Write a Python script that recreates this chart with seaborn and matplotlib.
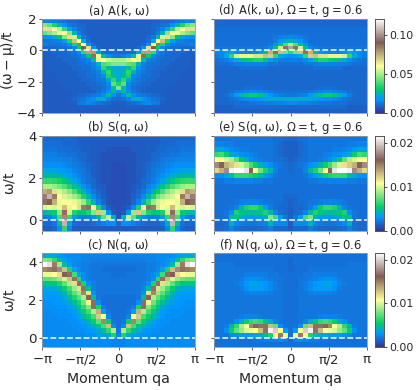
import numpy as np
import matplotlib
matplotlib.use("Agg")
import matplotlib.pyplot as plt
import seaborn as sns

# all panels are stored as % of the colour range, -pi..0 half only (spectra are symmetric)
# rows run from the top of the panel down, 0.25 in omega per row
panel_a = [
    [12, 12, 11, 10, 9, 8, 8, 7, 7, 7, 7, 7, 7, 7, 7, 7],
    [38, 35, 28, 20, 14, 10, 9, 8, 8, 7, 7, 7, 7, 7, 7, 7],
    [55, 55, 50, 42, 30, 18, 12, 9, 8, 7, 7, 7, 7, 7, 7, 7],
    [35, 38, 42, 48, 50, 38, 20, 11, 8, 7, 7, 7, 7, 7, 7, 7],
    [14, 15, 18, 24, 38, 55, 45, 20, 10, 8, 7, 7, 7, 7, 7, 7],
    [10, 10, 11, 12, 16, 28, 60, 50, 18, 9, 7, 7, 7, 7, 7, 7],
    [12, 10, 10, 10, 11, 14, 28, 70, 50, 14, 8, 7, 7, 7, 7, 7],
    [8, 8, 8, 9, 9, 10, 13, 25, 75, 55, 14, 8, 7, 7, 7, 7],
    [7, 7, 8, 8, 8, 9, 10, 13, 30, 85, 65, 16, 9, 8, 8, 8],
    [7, 7, 7, 8, 8, 8, 9, 10, 13, 25, 72, 48, 22, 14, 11, 10],
    [6, 7, 7, 7, 8, 8, 8, 9, 10, 12, 22, 52, 50, 45, 42, 42],
    [6, 7, 7, 7, 7, 8, 8, 9, 9, 10, 12, 20, 33, 35, 38, 38],
    [6, 7, 7, 7, 7, 7, 8, 8, 9, 9, 11, 14, 30, 22, 18, 17],
    [6, 6, 7, 7, 7, 7, 7, 8, 8, 9, 10, 12, 20, 30, 20, 18],
    [6, 6, 6, 7, 7, 7, 7, 8, 8, 9, 9, 11, 13, 28, 22, 18],
    [6, 6, 6, 7, 7, 7, 7, 7, 8, 8, 9, 10, 11, 18, 30, 20],
    [6, 6, 6, 6, 7, 7, 7, 7, 7, 8, 8, 9, 10, 13, 34, 28],
    [6, 6, 6, 6, 6, 7, 7, 7, 7, 7, 8, 8, 9, 12, 22, 38],
    [6, 6, 6, 6, 6, 6, 7, 7, 7, 7, 7, 9, 10, 14, 22, 16],
    [6, 6, 6, 6, 6, 6, 7, 8, 8, 9, 10, 11, 14, 22, 14, 10],
    [6, 6, 6, 6, 6, 7, 8, 9, 10, 12, 14, 18, 18, 12, 9, 8],
    [6, 6, 6, 6, 6, 6, 7, 10, 11, 13, 12, 10, 9, 8, 7, 7],
    [6, 6, 6, 6, 6, 6, 6, 7, 7, 7, 7, 7, 7, 7, 6, 6],
    [6, 6, 6, 6, 6, 6, 6, 6, 6, 6, 6, 6, 6, 6, 6, 6],
]
panel_b = [
    [8, 8, 8, 8, 8, 8, 8, 7, 7, 7, 7, 7, 7, 7, 7, 7],
    [9, 9, 9, 9, 8, 8, 8, 7, 7, 7, 6, 6, 6, 6, 6, 6],
    [10, 10, 10, 9, 9, 9, 8, 8, 7, 7, 6, 6, 6, 5, 5, 5],
    [11, 11, 11, 10, 10, 9, 9, 8, 8, 7, 6, 6, 5, 5, 5, 5],
    [12, 12, 12, 12, 11, 11, 10, 9, 8, 7, 6, 6, 5, 5, 5, 5],
    [14, 14, 14, 14, 13, 12, 11, 10, 9, 8, 7, 6, 5, 5, 4, 4],
    [17, 17, 17, 16, 15, 14, 12, 11, 10, 8, 7, 6, 5, 5, 4, 4],
    [21, 21, 20, 19, 18, 16, 14, 12, 10, 9, 7, 6, 5, 5, 4, 4],
    [30, 30, 29, 27, 24, 20, 17, 14, 11, 9, 8, 6, 5, 5, 4, 4],
    [42, 42, 40, 37, 33, 28, 23, 18, 14, 11, 8, 7, 6, 5, 4, 4],
    [62, 65, 55, 46, 42, 38, 32, 26, 20, 14, 10, 8, 6, 5, 4, 4],
    [80, 88, 70, 50, 46, 44, 41, 36, 28, 20, 13, 9, 7, 5, 4, 4],
    [72, 75, 62, 48, 50, 50, 48, 45, 40, 30, 20, 12, 8, 5, 4, 4],
    [46, 48, 46, 48, 60, 48, 50, 55, 70, 72, 52, 28, 13, 7, 5, 4],
    [20, 22, 26, 40, 72, 45, 28, 24, 24, 28, 38, 58, 40, 14, 6, 4],
    [11, 12, 16, 32, 82, 30, 16, 12, 11, 12, 14, 20, 34, 44, 20, 5],
    [8, 8, 10, 22, 88, 18, 9, 8, 8, 8, 9, 10, 12, 14, 14, 8],
    [7, 7, 8, 14, 30, 12, 7, 6, 6, 6, 6, 6, 6, 6, 6, 6],
]
panel_c = [
    [18, 18, 17, 15, 14, 13, 13, 13, 12, 12, 12, 12, 12, 12, 12, 12],
    [38, 36, 30, 22, 16, 14, 13, 13, 12, 12, 11, 11, 11, 11, 11, 11],
    [100, 95, 70, 40, 22, 15, 13, 12, 11, 11, 10, 10, 10, 10, 10, 10],
    [68, 70, 78, 82, 60, 28, 17, 13, 11, 11, 10, 10, 9, 9, 9, 9],
    [48, 48, 50, 55, 75, 72, 32, 17, 13, 11, 10, 10, 10, 10, 9, 9],
    [34, 34, 36, 40, 46, 60, 78, 30, 14, 11, 10, 10, 10, 10, 10, 10],
    [24, 24, 24, 28, 34, 42, 55, 78, 28, 14, 11, 10, 10, 10, 10, 10],
    [17, 17, 18, 20, 26, 32, 40, 55, 78, 22, 12, 10, 10, 10, 10, 10],
    [16, 16, 16, 17, 20, 28, 34, 40, 68, 55, 14, 10, 10, 10, 10, 10],
    [15, 15, 15, 16, 18, 22, 28, 34, 42, 76, 22, 10, 9, 9, 9, 9],
    [14, 14, 15, 15, 16, 18, 22, 28, 36, 52, 72, 14, 9, 9, 9, 9],
    [14, 14, 14, 15, 15, 16, 18, 24, 30, 38, 72, 28, 11, 9, 9, 9],
    [13, 13, 14, 14, 14, 15, 16, 20, 26, 32, 42, 62, 16, 10, 9, 9],
    [13, 13, 13, 14, 14, 14, 15, 17, 21, 26, 32, 58, 50, 12, 9, 9],
    [13, 13, 13, 13, 13, 14, 14, 15, 17, 20, 26, 34, 68, 26, 10, 9],
    [13, 13, 13, 13, 13, 13, 14, 14, 15, 17, 20, 24, 32, 60, 13, 9],
    [13, 13, 13, 13, 13, 13, 13, 14, 14, 15, 16, 18, 22, 30, 42, 10],
    [13, 13, 13, 13, 13, 13, 13, 13, 13, 14, 14, 15, 16, 18, 28, 12],
    [13, 13, 13, 13, 13, 13, 13, 13, 13, 13, 13, 13, 13, 13, 12, 12],
    [13, 13, 13, 13, 13, 13, 13, 13, 13, 13, 13, 13, 13, 13, 12, 12],
]
panel_d = [
    [8, 8, 8, 8, 8, 8, 8, 8, 8, 8, 8, 8, 8, 8, 8, 8],
    [8, 8, 8, 8, 8, 8, 8, 8, 8, 8, 8, 8, 8, 8, 8, 8],
    [9, 9, 9, 9, 9, 9, 9, 9, 9, 9, 9, 9, 9, 9, 9, 9],
    [9, 9, 9, 9, 9, 9, 9, 9, 9, 9, 9, 9, 9, 9, 9, 9],
    [9, 9, 9, 9, 9, 9, 9, 9, 9, 9, 9, 9, 10, 11, 12, 13],
    [9, 9, 9, 9, 9, 9, 9, 9, 9, 9, 9, 9, 11, 15, 18, 20],
    [9, 9, 9, 9, 9, 9, 9, 9, 9, 9, 9, 10, 14, 22, 33, 42],
    [10, 10, 10, 10, 10, 10, 10, 10, 10, 10, 11, 13, 24, 45, 78, 85],
    [12, 13, 15, 18, 14, 12, 12, 12, 13, 15, 24, 62, 72, 60, 36, 30],
    [11, 13, 18, 30, 45, 52, 52, 52, 55, 55, 60, 58, 30, 18, 15, 14],
    [9, 10, 11, 14, 18, 22, 24, 26, 28, 28, 24, 16, 13, 11, 11, 11],
    [9, 9, 9, 10, 11, 11, 12, 12, 12, 12, 11, 10, 10, 9, 9, 9],
    [8, 8, 8, 8, 8, 9, 9, 9, 9, 9, 9, 8, 8, 8, 8, 8],
    [8, 8, 8, 8, 8, 8, 8, 8, 8, 8, 8, 8, 8, 8, 8, 8],
    [8, 8, 8, 8, 8, 8, 8, 8, 8, 8, 8, 8, 8, 8, 8, 8],
    [8, 8, 8, 8, 8, 8, 8, 8, 8, 8, 8, 8, 8, 8, 8, 8],
    [8, 8, 8, 8, 8, 8, 8, 8, 8, 8, 8, 8, 8, 8, 8, 8],
    [8, 8, 8, 8, 8, 8, 9, 9, 9, 9, 8, 8, 8, 8, 8, 8],
    [8, 8, 8, 9, 10, 11, 12, 13, 13, 12, 11, 10, 9, 9, 9, 9],
    [8, 8, 9, 11, 16, 20, 24, 26, 26, 23, 20, 15, 12, 11, 10, 10],
    [8, 8, 8, 9, 10, 12, 13, 14, 14, 15, 16, 18, 18, 18, 18, 18],
    [8, 8, 8, 8, 9, 9, 9, 10, 10, 10, 11, 11, 12, 12, 13, 13],
    [7, 7, 7, 7, 8, 8, 8, 8, 8, 8, 8, 8, 8, 8, 8, 8],
    [7, 7, 7, 7, 7, 7, 7, 7, 7, 7, 7, 7, 7, 7, 7, 7],
]
panel_e = [
    [10, 10, 10, 10, 10, 10, 10, 10, 10, 10, 10, 10, 9, 9, 8, 8],
    [12, 12, 11, 11, 10, 10, 10, 10, 10, 10, 10, 10, 9, 8, 7, 7],
    [17, 18, 15, 13, 12, 11, 11, 10, 10, 10, 10, 10, 9, 8, 7, 7],
    [30, 32, 26, 18, 16, 14, 13, 12, 11, 10, 10, 10, 9, 8, 7, 7],
    [50, 50, 46, 42, 34, 24, 18, 14, 12, 11, 10, 10, 9, 9, 8, 7],
    [82, 74, 62, 58, 54, 46, 40, 32, 26, 20, 16, 14, 11, 10, 9, 8],
    [56, 62, 82, 98, 100, 100, 96, 76, 50, 36, 28, 20, 12, 9, 9, 8],
    [14, 14, 18, 22, 30, 30, 30, 28, 26, 20, 16, 13, 10, 9, 9, 9],
    [10, 10, 11, 11, 12, 12, 12, 12, 11, 11, 10, 10, 9, 9, 9, 9],
    [9, 9, 9, 9, 9, 9, 9, 9, 9, 9, 9, 9, 9, 9, 9, 9],
    [9, 9, 9, 9, 9, 9, 9, 9, 9, 9, 9, 9, 9, 9, 9, 9],
    [9, 9, 9, 9, 9, 9, 9, 9, 9, 9, 9, 9, 9, 9, 8, 8],
    [9, 9, 9, 9, 10, 11, 12, 12, 12, 11, 10, 10, 9, 9, 8, 7],
    [9, 9, 9, 10, 12, 20, 28, 30, 30, 26, 16, 11, 9, 8, 8, 7],
    [9, 9, 10, 14, 28, 24, 22, 22, 22, 24, 28, 22, 12, 9, 8, 7],
    [9, 9, 10, 22, 24, 18, 16, 15, 16, 16, 20, 38, 32, 16, 10, 7],
    [8, 8, 9, 20, 13, 11, 10, 10, 10, 11, 12, 20, 13, 13, 13, 6],
    [8, 8, 9, 12, 9, 8, 8, 8, 8, 8, 9, 11, 8, 8, 8, 6],
]
panel_f = [
    [9, 9, 9, 9, 9, 9, 9, 9, 9, 9, 9, 9, 9, 9, 9, 9],
    [9, 9, 9, 9, 9, 9, 9, 9, 9, 9, 9, 9, 9, 9, 9, 8],
    [10, 10, 10, 10, 9, 9, 9, 9, 9, 9, 9, 9, 9, 9, 9, 8],
    [10, 10, 10, 10, 10, 10, 10, 10, 10, 10, 10, 10, 9, 9, 9, 8],
    [10, 10, 10, 10, 10, 10, 11, 11, 11, 11, 11, 10, 10, 9, 9, 9],
    [10, 10, 10, 10, 10, 11, 13, 14, 14, 13, 12, 11, 10, 10, 9, 9],
    [10, 10, 10, 10, 11, 12, 15, 17, 17, 16, 15, 13, 11, 10, 9, 9],
    [10, 10, 10, 10, 10, 11, 14, 16, 16, 16, 15, 13, 11, 10, 9, 9],
    [10, 10, 10, 10, 10, 10, 11, 12, 12, 12, 12, 11, 10, 10, 9, 9],
    [10, 10, 10, 10, 10, 10, 10, 10, 10, 10, 10, 10, 10, 10, 9, 9],
    [10, 10, 10, 10, 10, 10, 10, 10, 10, 10, 10, 10, 10, 10, 9, 9],
    [10, 10, 10, 10, 10, 10, 10, 10, 10, 10, 10, 10, 10, 10, 9, 9],
    [10, 10, 10, 10, 10, 10, 10, 10, 10, 10, 10, 10, 10, 10, 9, 9],
    [10, 10, 10, 10, 10, 11, 12, 12, 12, 11, 10, 10, 10, 10, 9, 9],
    [10, 10, 10, 10, 14, 18, 26, 30, 32, 30, 24, 18, 12, 10, 9, 9],
    [10, 10, 11, 20, 30, 42, 50, 68, 76, 78, 72, 60, 35, 14, 10, 9],
    [10, 10, 14, 26, 34, 40, 46, 48, 50, 60, 78, 98, 92, 50, 16, 9],
    [10, 10, 10, 13, 14, 15, 15, 16, 17, 18, 22, 28, 50, 70, 48, 9],
    [9, 9, 9, 9, 9, 9, 9, 9, 10, 10, 11, 12, 12, 13, 12, 8],
    [9, 9, 9, 9, 9, 9, 9, 9, 9, 9, 9, 9, 9, 9, 9, 9],
]

titles = ["(a) A(k, $\\omega$)", "(b) S(q, $\\omega$)", "(c) N(q, $\\omega$)",
          "(d) A(k, $\\omega$), $\\Omega = t$, $g = 0.6$",
          "(e) S(q, $\\omega$), $\\Omega = t$, $g = 0.6$",
          "(f) N(q, $\\omega$), $\\Omega = t$, $g = 0.6$"]
ylims = [(-4, 2), (-0.5, 4), (-0.5, 4.5)] * 2
yticks = [[-4, -2, 0, 2], [0, 2, 4], [0, 2, 4]]
ylabels = ["$(\\omega - \\mu)$/t", "$\\omega$/t", "$\\omega$/t"]
qticks = [-1, -0.5, 0, 0.5, 1]
qlabels = ["$-\\pi$", "$-\\pi/2$", "0", "$\\pi/2$", "$\\pi$"]
cbar_max = [0.12, 0.0215, 0.0215]
cbar_ticks = [[0, 0.05, 0.10], [0, 0.01, 0.02], [0, 0.01, 0.02]]
cbar_labels = [["0.00", "0.05", "0.10"], ["0.00", "0.01", "0.02"], ["0.00", "0.01", "0.02"]]

sns.set_style("white")
plt.rcParams["font.family"] = ["DejaVu Sans"]
plt.rcParams["mathtext.default"] = "regular"

W, H = 416, 390
fig = plt.figure(figsize=(W / 100, H / 100), dpi=100)

def box(x0, y0, x1, y1):
    return [x0 / W, 1 - y1 / H, (x1 - x0) / W, (y1 - y0) / H]

rows_px = [(19, 113), (136, 231), (253, 347)]
cols_px = [(42, 195), (214, 367)]
panels = [panel_a, panel_b, panel_c, panel_d, panel_e, panel_f]

for i, half in enumerate(panels):
    col, row = i // 3, i % 3
    half = np.array(half, dtype=float)
    full = np.hstack([half, half[:, -2::-1]])
    ax = fig.add_axes(box(cols_px[col][0], rows_px[row][0], cols_px[col][1], rows_px[row][1]))
    if col == 1:
        top = cbar_max[row]
        cax = fig.add_axes(box(375, rows_px[row][0], 384, rows_px[row][1]))
        sns.heatmap(full / 100 * top, ax=ax, cmap="terrain", vmin=0, vmax=top, cbar_ax=cax,
                    xticklabels=False, yticklabels=False)
        cax.set_yticks(cbar_ticks[row])
        cax.set_yticklabels(cbar_labels[row], fontsize=7.8)
        cax.tick_params(length=2.5, width=0.6, pad=1.5, right=True)
        for s in cax.spines.values():
            s.set_visible(True)
            s.set_linewidth(0.6)
            s.set_color("#555555")
    else:
        sns.heatmap(full, ax=ax, cmap="terrain", vmin=0, vmax=100, cbar=False,
                    xticklabels=False, yticklabels=False)

    nr, nc = full.shape
    lo, hi = ylims[i]
    to_row = lambda v: (hi - v) / (hi - lo) * nr
    ax.axhline(to_row(0), color="white", ls="--", lw=1.2, dashes=(3.5, 1.5), alpha=0.9)
    ax.set_xticks([(q + 1) / 2 * nc for q in qticks])
    ax.set_yticks([to_row(v) for v in yticks[row]])
    ax.set_xticklabels(qlabels if row == 2 else [], fontsize=9.5)
    ax.set_yticklabels([str(v).replace("-", "\u2212") for v in yticks[row]] if col == 0 else [],
                       fontsize=9.6, rotation=0)
    ax.tick_params(left=True, bottom=True, length=2.5, width=0.6, pad=1.5, color="#444444")
    for s in ax.spines.values():
        s.set_visible(True)
        s.set_linewidth(0.6)
        s.set_color("#999999")
    ax.set_title(titles[i], fontsize=8.4, pad=3)
    if col == 0:
        ax.set_ylabel(ylabels[row], fontsize=10)
        ax.yaxis.set_label_coords(-0.165, 0.56 if row == 0 else 0.5)
    if row == 2:
        ax.set_xlabel("Momentum qa", fontsize=10.2, labelpad=4)

fig.savefig("out.png", dpi=100)
